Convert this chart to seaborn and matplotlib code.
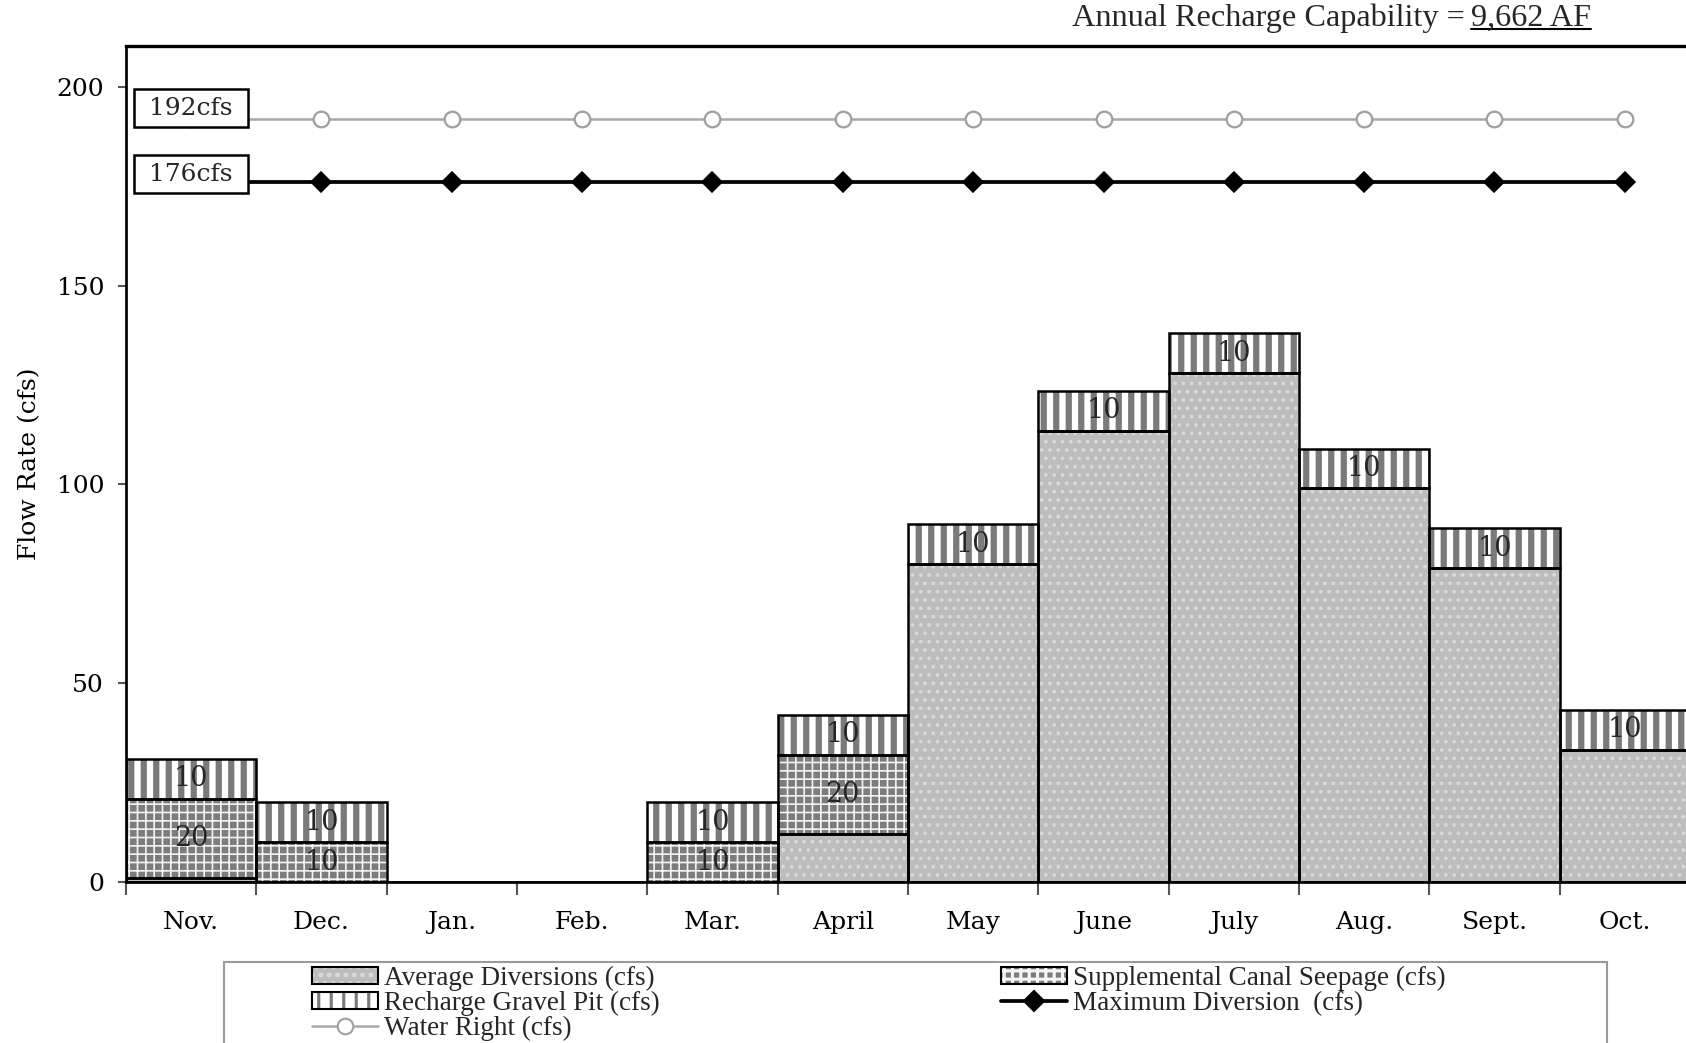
import numpy as np
import matplotlib
matplotlib.use('Agg')
import matplotlib.pyplot as plt
import seaborn as sns
from matplotlib.patches import Patch, Rectangle
from matplotlib.lines import Line2D

# === DATA ===
months = ['Nov.', 'Dec.', 'Jan.', 'Feb.', 'Mar.', 'April', 'May', 'June',
          'July', 'Aug.', 'Sept.', 'Oct.']
avg_diversions = [1, 0, 0, 0, 0, 12, 80, 113.5, 128, 99, 79, 33.3]
canal_seepage = [20, 10, 0, 0, 10, 20, 0, 0, 0, 0, 0, 0]
gravel_pit = [10, 10, 0, 0, 10, 10, 10, 10, 10, 10, 10, 10]
water_right = [192] * 12
max_diversion = [176] * 12
water_right_label = '192cfs'
max_diversion_label = '176cfs'
recharge_text = 'Annual Recharge Capability ='
recharge_value = '9,662 AF'

# === STYLE ===
sns.set_theme(style='white')
plt.rcParams['font.family'] = ['DejaVu Serif']
plt.rcParams['hatch.linewidth'] = 1.5

STYLES = {
    'avg': dict(face='#bdbdbd', hcolor='#dadada', hatch='...', hlw=1.0),
    'seep': dict(face='#7c7c7c', hcolor='#f4f4f4', hatch='+++', hlw=0.8),
    'gravel': dict(face='white', hcolor='#7a7a7a', hatch='||', hlw=3.0),
}

W, H, DPI = 1686, 1043, 150
fig = plt.figure(figsize=(W / DPI, H / DPI), dpi=DPI, facecolor='white')
ax = fig.add_axes([126 / W, 1 - 882 / H, 1564 / W, (882 - 46) / H])

x = np.arange(len(months))


def set_hlw(patches, lw):
    for p in patches:
        if hasattr(p, 'set_hatch_linewidth'):
            p.set_hatch_linewidth(lw)


def hatched_bar(vals, bottom, st):
    ax.bar(x, vals, bottom=bottom, width=1.0, color=st['face'], lw=0, zorder=2)
    with plt.rc_context({'hatch.linewidth': st['hlw']}):
        bars = ax.bar(x, vals, bottom=bottom, width=1.0, color='none',
                      edgecolor=st['hcolor'], lw=0, hatch=st['hatch'], zorder=2.1)
    set_hlw(bars, st['hlw'])
    ax.bar(x, vals, bottom=bottom, width=1.0, fill=False, edgecolor='black',
           lw=1.2, zorder=2.2)


avg = np.array(avg_diversions, dtype=float)
seep = np.array(canal_seepage, dtype=float)
grav = np.array(gravel_pit, dtype=float)

hatched_bar(avg, 0, STYLES['avg'])
hatched_bar(seep, avg, STYLES['seep'])
hatched_bar(grav, avg + seep, STYLES['gravel'])

# segment labels
for i in range(len(months)):
    if seep[i] > 0:
        ax.text(i, avg[i] + seep[i] / 2, f'{seep[i]:g}', ha='center', va='center',
                fontsize=13, zorder=5)
    if grav[i] > 0:
        ax.text(i, avg[i] + seep[i] + grav[i] / 2, f'{grav[i]:g}', ha='center',
                va='center', fontsize=13, zorder=5)

# horizontal reference lines
sns.lineplot(x=x, y=water_right, ax=ax, color='#a8a8a8', lw=1.2, marker='o',
             markersize=7.5, markerfacecolor='white', markeredgecolor='#a0a0a0',
             markeredgewidth=1.1, zorder=3)
sns.lineplot(x=x, y=max_diversion, ax=ax, color='black', lw=1.8, marker='D',
             markersize=7, markerfacecolor='black', markeredgecolor='black', zorder=3)

box = dict(boxstyle='square,pad=0.3', fc='white', ec='black', lw=1.2)
ax.text(0, water_right[0] + 2.6, f' {water_right_label} ', ha='center', va='center',
        fontsize=12, bbox=box, zorder=6)
ax.text(0, max_diversion[0] + 2.1, f' {max_diversion_label} ', ha='center', va='center',
        fontsize=12, bbox=box, zorder=6)

# axes
ax.set_xlim(-0.5, 11.5)
ax.set_ylim(0, 210.3)
ax.set_xticks(x)
ax.set_xticklabels(months)
ax.set_xticks(np.arange(-0.5, 12, 1), minor=True)
ax.set_yticks([0, 50, 100, 150, 200])
ax.tick_params(which='both', bottom=True, left=True)
ax.tick_params(axis='x', which='major', length=0, pad=14, labelsize=12, labelcolor='black')
ax.tick_params(axis='x', which='minor', length=6, width=1, direction='out', color='#555555')
ax.tick_params(axis='y', length=4, width=1, direction='out', pad=6.5, labelsize=12,
               color='#555555', labelcolor='black')
ax.set_xlabel('')
ax.set_ylabel('Flow Rate (cfs)', fontsize=12, color='black')
ax.yaxis.set_label_coords(-0.054, 0.5)
for side in ['top', 'left', 'bottom']:
    ax.spines[side].set_color('black')
    ax.spines[side].set_linewidth(1.3)
ax.spines['top'].set_linewidth(1.6)
ax.spines['right'].set_visible(False)
ax.grid(False)

# title with underlined value
ty = 1 - 18 / H
t2 = fig.text(1591 / W, ty, recharge_value, ha='right', va='center', fontsize=15.5,
              family=['Liberation Serif'])
fig.canvas.draw()
r = fig.canvas.get_renderer()
bb = t2.get_window_extent(r).transformed(fig.transFigure.inverted())
fig.text(bb.x0 - 6 / W, ty, recharge_text, ha='right', va='center', fontsize=15.5,
         family=['Liberation Serif'])
fig.add_artist(Line2D([bb.x0, bb.x1], [bb.y0 + 4 / H, bb.y0 + 4 / H], color='black',
                      lw=1.0, transform=fig.transFigure))


# legend
def bar_handle(st):
    face = Patch(facecolor=st['face'], edgecolor='none', lw=0)
    with plt.rc_context({'hatch.linewidth': st['hlw']}):
        hat = Patch(facecolor='none', edgecolor=st['hcolor'], lw=0, hatch=st['hatch'])
    set_hlw([hat], st['hlw'])
    edge = Patch(facecolor='none', edgecolor='black', lw=1.0)
    return (face, hat, edge)


h_avg = bar_handle(STYLES['avg'])
h_grav = bar_handle(STYLES['gravel'])
h_seep = bar_handle(STYLES['seep'])
h_wr = Line2D([], [], color='#a8a8a8', lw=1.2, marker='o', markersize=7.5,
              markerfacecolor='white', markeredgecolor='#a0a0a0')
h_md = Line2D([], [], color='black', lw=1.8, marker='D', markersize=7)

leg_kw = dict(loc='upper left', frameon=False, borderpad=0, borderaxespad=0,
              handlelength=2.45, handleheight=0.6, handletextpad=0.2,
              labelspacing=0.0, prop={'family': 'Liberation Serif', 'size': 13})
fig.legend([h_avg, h_grav, h_wr],
           ['Average Diversions (cfs)', 'Recharge Gravel Pit (cfs)', 'Water Right (cfs)'],
           bbox_to_anchor=(312 / W, 1 - 966 / H), **leg_kw)
fig.legend([h_seep, h_md],
           ['Supplemental Canal Seepage (cfs)', 'Maximum Diversion  (cfs)'],
           bbox_to_anchor=(1001 / W, 1 - 966 / H), **leg_kw)
fig.add_artist(Rectangle((224 / W, -0.05), (1607 - 224) / W, (1043 - 962) / H + 0.05,
                         fill=False, edgecolor='#9a9a9a', lw=1.0, transform=fig.transFigure))

fig.savefig('out.png', dpi=DPI)
